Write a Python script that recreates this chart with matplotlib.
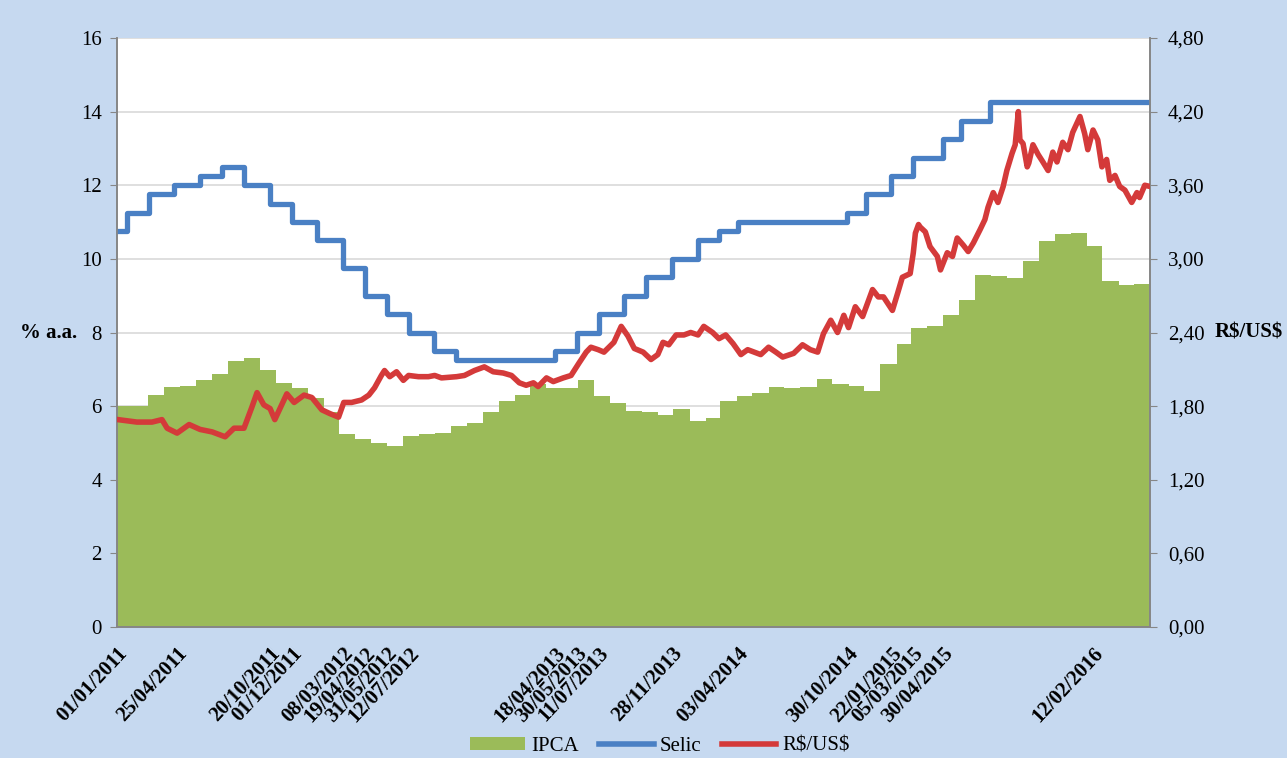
import numpy as np
import pandas as pd
import matplotlib
matplotlib.use("Agg")
import matplotlib.pyplot as plt
from matplotlib.patches import Patch
from matplotlib.lines import Line2D
from matplotlib.ticker import FuncFormatter, MultipleLocator

plt.rcParams['font.family'] = ['Liberation Serif', 'DejaVu Serif']

# ── Dados ─────────────────────────────────────────────────────────────────────
# IPCA acumulado 12 meses (% a.a.), valor mensal
ipca_start = "2011-01-01"
ipca = [5.99, 6.01, 6.30, 6.51, 6.55, 6.71, 6.87, 7.23, 7.31, 6.97, 6.64, 6.50,
        6.22, 5.85, 5.24, 5.10, 4.99, 4.92, 5.20, 5.24, 5.28, 5.45, 5.53, 5.84,
        6.15, 6.31, 6.59, 6.49, 6.50, 6.70, 6.27, 6.09, 5.86, 5.84, 5.77, 5.91,
        5.59, 5.68, 6.15, 6.28, 6.37, 6.52, 6.50, 6.51, 6.75, 6.59, 6.56, 6.41,
        7.14, 7.70, 8.13, 8.17, 8.47, 8.89, 9.56, 9.53, 9.49, 9.93, 10.48, 10.67,
        10.71, 10.36, 9.39, 9.28, 9.32]

# Meta Selic (% a.a.) – datas das reuniões do Copom
selic_dates = ["2011-01-01", "2011-01-20", "2011-03-03", "2011-04-21", "2011-06-09",
               "2011-07-21", "2011-09-01", "2011-10-20", "2011-12-01", "2012-01-19",
               "2012-03-08", "2012-04-19", "2012-05-31", "2012-07-12", "2012-08-30",
               "2012-10-11", "2013-04-18", "2013-05-30", "2013-07-11", "2013-08-29",
               "2013-10-10", "2013-11-28", "2014-01-16", "2014-02-27", "2014-04-03",
               "2014-10-30", "2014-12-04", "2015-01-22", "2015-03-05", "2015-04-30",
               "2015-06-04", "2015-07-30"]
selic = [10.75, 11.25, 11.75, 12.00, 12.25, 12.50, 12.00, 11.50, 11.00, 10.50,
         9.75, 9.00, 8.50, 8.00, 7.50, 7.25, 7.50, 8.00, 8.50, 9.00,
         9.50, 10.00, 10.50, 10.75, 11.00, 11.25, 11.75, 12.25, 12.75, 13.25,
         13.75, 14.25]

# Câmbio R$/US$
fx_dates = ["2011-01-03", "2011-02-08", "2011-03-09", "2011-03-28", "2011-04-07",
            "2011-04-26", "2011-05-19", "2011-06-09", "2011-07-02", "2011-07-27",
            "2011-08-13", "2011-09-01", "2011-09-16", "2011-09-26", "2011-10-09",
            "2011-10-21", "2011-10-30", "2011-11-22", "2011-12-06", "2011-12-25",
            "2012-01-09", "2012-01-28", "2012-02-12", "2012-02-29", "2012-03-10",
            "2012-03-25", "2012-04-13", "2012-04-27", "2012-05-08", "2012-05-21",
            "2012-05-27", "2012-06-06", "2012-06-19", "2012-07-02", "2012-07-12",
            "2012-07-31", "2012-08-19", "2012-08-31", "2012-09-13", "2012-10-12",
            "2012-10-27", "2012-11-15", "2012-12-04", "2012-12-21", "2013-01-09",
            "2013-01-25", "2013-02-09", "2013-02-22", "2013-03-08", "2013-03-17",
            "2013-04-02", "2013-04-15", "2013-05-04", "2013-05-19", "2013-06-03",
            "2013-06-17", "2013-06-26", "2013-07-10", "2013-07-21", "2013-08-09",
            "2013-08-23", "2013-09-05", "2013-09-17", "2013-10-04", "2013-10-19",
            "2013-11-01", "2013-11-11", "2013-11-22", "2013-12-06", "2013-12-21",
            "2014-01-03", "2014-01-17", "2014-01-28", "2014-02-14", "2014-02-26",
            "2014-03-11", "2014-03-25", "2014-04-09", "2014-04-22", "2014-05-11",
            "2014-05-17", "2014-06-01", "2014-06-15", "2014-06-28", "2014-07-19",
            "2014-08-05", "2014-08-20", "2014-09-03", "2014-09-14", "2014-09-28",
            "2014-10-11", "2014-10-23", "2014-11-01", "2014-11-14", "2014-11-28",
            "2014-12-17", "2014-12-28", "2015-01-07", "2015-01-24", "2015-02-03",
            "2015-02-12", "2015-02-27", "2015-03-05", "2015-03-09", "2015-03-15",
            "2015-03-18", "2015-03-28", "2015-04-06", "2015-04-20", "2015-04-26",
            "2015-05-09", "2015-05-19", "2015-05-28", "2015-06-09", "2015-06-18",
            "2015-06-28", "2015-07-11", "2015-07-20", "2015-07-26", "2015-08-05",
            "2015-08-14", "2015-08-24", "2015-08-31", "2015-09-10", "2015-09-16",
            "2015-09-22", "2015-09-25", "2015-10-01", "2015-10-09", "2015-10-12",
            "2015-10-20", "2015-10-30", "2015-11-08", "2015-11-18", "2015-11-27",
            "2015-12-05", "2015-12-16", "2015-12-26", "2016-01-04", "2016-01-18",
            "2016-01-27", "2016-02-02", "2016-02-12", "2016-02-21", "2016-02-29",
            "2016-03-09", "2016-03-15", "2016-03-25", "2016-04-03", "2016-04-13",
            "2016-04-26", "2016-05-06", "2016-05-11", "2016-05-21", "2016-05-31"]
fx = [1.69, 1.67, 1.67, 1.69, 1.62,
      1.58, 1.65, 1.61, 1.59, 1.55,
      1.62, 1.62, 1.79, 1.91, 1.81,
      1.78, 1.69, 1.90, 1.83, 1.89,
      1.87, 1.77, 1.74, 1.71, 1.83,
      1.83, 1.85, 1.89, 1.95, 2.05,
      2.09, 2.04, 2.08, 2.01, 2.05,
      2.04, 2.04, 2.05, 2.03, 2.04,
      2.05, 2.09, 2.12, 2.08, 2.07,
      2.05, 1.99, 1.97, 1.99, 1.96,
      2.03, 2.00, 2.03, 2.05, 2.15,
      2.24, 2.28, 2.26, 2.24, 2.32,
      2.45, 2.37, 2.27, 2.24, 2.18,
      2.22, 2.32, 2.30, 2.38, 2.38,
      2.40, 2.38, 2.45, 2.40, 2.35,
      2.38, 2.31, 2.22, 2.26, 2.23,
      2.22, 2.28, 2.24, 2.20, 2.23,
      2.30, 2.26, 2.24, 2.39, 2.50,
      2.40, 2.54, 2.44, 2.61, 2.53,
      2.75, 2.69, 2.69, 2.58, 2.72,
      2.85, 2.88, 3.05, 3.21, 3.28,
      3.26, 3.22, 3.10, 3.02, 2.91,
      3.05, 3.02, 3.17, 3.11, 3.06,
      3.13, 3.24, 3.32, 3.42, 3.54,
      3.46, 3.59, 3.72, 3.86, 3.93,
      4.20, 3.97, 3.94, 3.75, 3.78,
      3.93, 3.85, 3.79, 3.72, 3.87,
      3.79, 3.95, 3.89, 4.03, 4.16,
      4.02, 3.89, 4.05, 3.97, 3.75,
      3.81, 3.64, 3.68, 3.59, 3.56,
      3.46, 3.54, 3.50, 3.60, 3.59]

tick_dates = ["2011-01-01", "2011-04-25", "2011-10-20", "2011-12-01", "2012-03-08",
              "2012-04-19", "2012-05-31", "2012-07-12", "2013-04-18", "2013-05-30",
              "2013-07-11", "2013-11-28", "2014-04-03", "2014-10-30", "2015-01-22",
              "2015-03-05", "2015-04-30", "2016-02-12"]

x_start, x_end = "2011-01-01", "2016-05-31"

# ── Séries ────────────────────────────────────────────────────────────────────
ipca_idx = pd.date_range(ipca_start, periods=len(ipca), freq="MS")
ipca_x = list(ipca_idx) + [pd.Timestamp(x_end)]
ipca_y = ipca + [ipca[-1]]

selic_x = [pd.Timestamp(d) for d in selic_dates] + [pd.Timestamp(x_end)]
selic_y = selic + [selic[-1]]

fx_x = pd.to_datetime(fx_dates)
ticks = pd.to_datetime(tick_dates)

GREEN = "#9bbb59"
BLUE = "#4a80c4"
RED = "#d43a3a"
BG = "#c6d9f0"

# ── Figura ────────────────────────────────────────────────────────────────────
fig = plt.figure(figsize=(12.87, 7.58), dpi=100, facecolor=BG)
ax = fig.add_axes([117 / 1287, 1 - 627 / 758, (1150 - 117) / 1287, (627 - 38) / 758])
ax.set_facecolor("white")

ax.fill_between(ipca_x, ipca_y, 0, step="post", color=GREEN, lw=0, zorder=2)
ax.step(selic_x, selic_y, where="post", color=BLUE, lw=3.8, zorder=3)

ax.set_ylim(0, 16)
ax.yaxis.set_major_locator(MultipleLocator(2))
ax.set_xlim(pd.Timestamp(x_start), pd.Timestamp(x_end))
ax.grid(axis="y", color="#d9d9d9", lw=1.2, zorder=0)
ax.set_axisbelow(True)

ax.set_xticks(ticks)
ax.set_xticklabels([d.strftime("%d/%m/%Y") for d in ticks], rotation=47,
                   ha="right", rotation_mode="anchor", fontsize=15,
                   fontweight="bold")
ax.tick_params(axis="x", length=0, pad=12)
ax.tick_params(axis="y", labelsize=15, length=5, color="#868686", pad=6)

ax2 = ax.twinx()
ax2.plot(fx_x, fx, color=RED, lw=4, zorder=4)
ax2.set_ylim(0, 4.8)
ax2.yaxis.set_major_locator(MultipleLocator(0.6))
ax2.yaxis.set_major_formatter(FuncFormatter(lambda v, p: f"{v:.2f}".replace(".", ",")))
ax2.tick_params(axis="y", labelsize=15, length=5, color="#868686", pad=8)

for a in (ax, ax2):
    a.spines["top"].set_visible(False)
    for s in ("left", "right", "bottom"):
        a.spines[s].set_color("#868686")
        a.spines[s].set_linewidth(1.2)

fig.text(20 / 1287, 1 - 333 / 758, "% a.a.", fontsize=15, fontweight="bold",
         va="center", ha="left")
fig.text(1215 / 1287, 1 - 333 / 758, r"R\$/US\$", fontsize=15, fontweight="bold",
         va="center", ha="left")

handles = [Patch(facecolor=GREEN, edgecolor="none"),
           Line2D([], [], color=BLUE, lw=4),
           Line2D([], [], color=RED, lw=4)]
fig.legend(handles, ["IPCA", "Selic", r"R\$/US\$"], loc="lower center",
           bbox_to_anchor=(0.513, -0.022), ncol=3, frameon=False, fontsize=15,
           handlelength=2.6, handleheight=0.6, columnspacing=1.0, handletextpad=0.3)

fig.savefig("out.png", dpi=100, facecolor=BG)
